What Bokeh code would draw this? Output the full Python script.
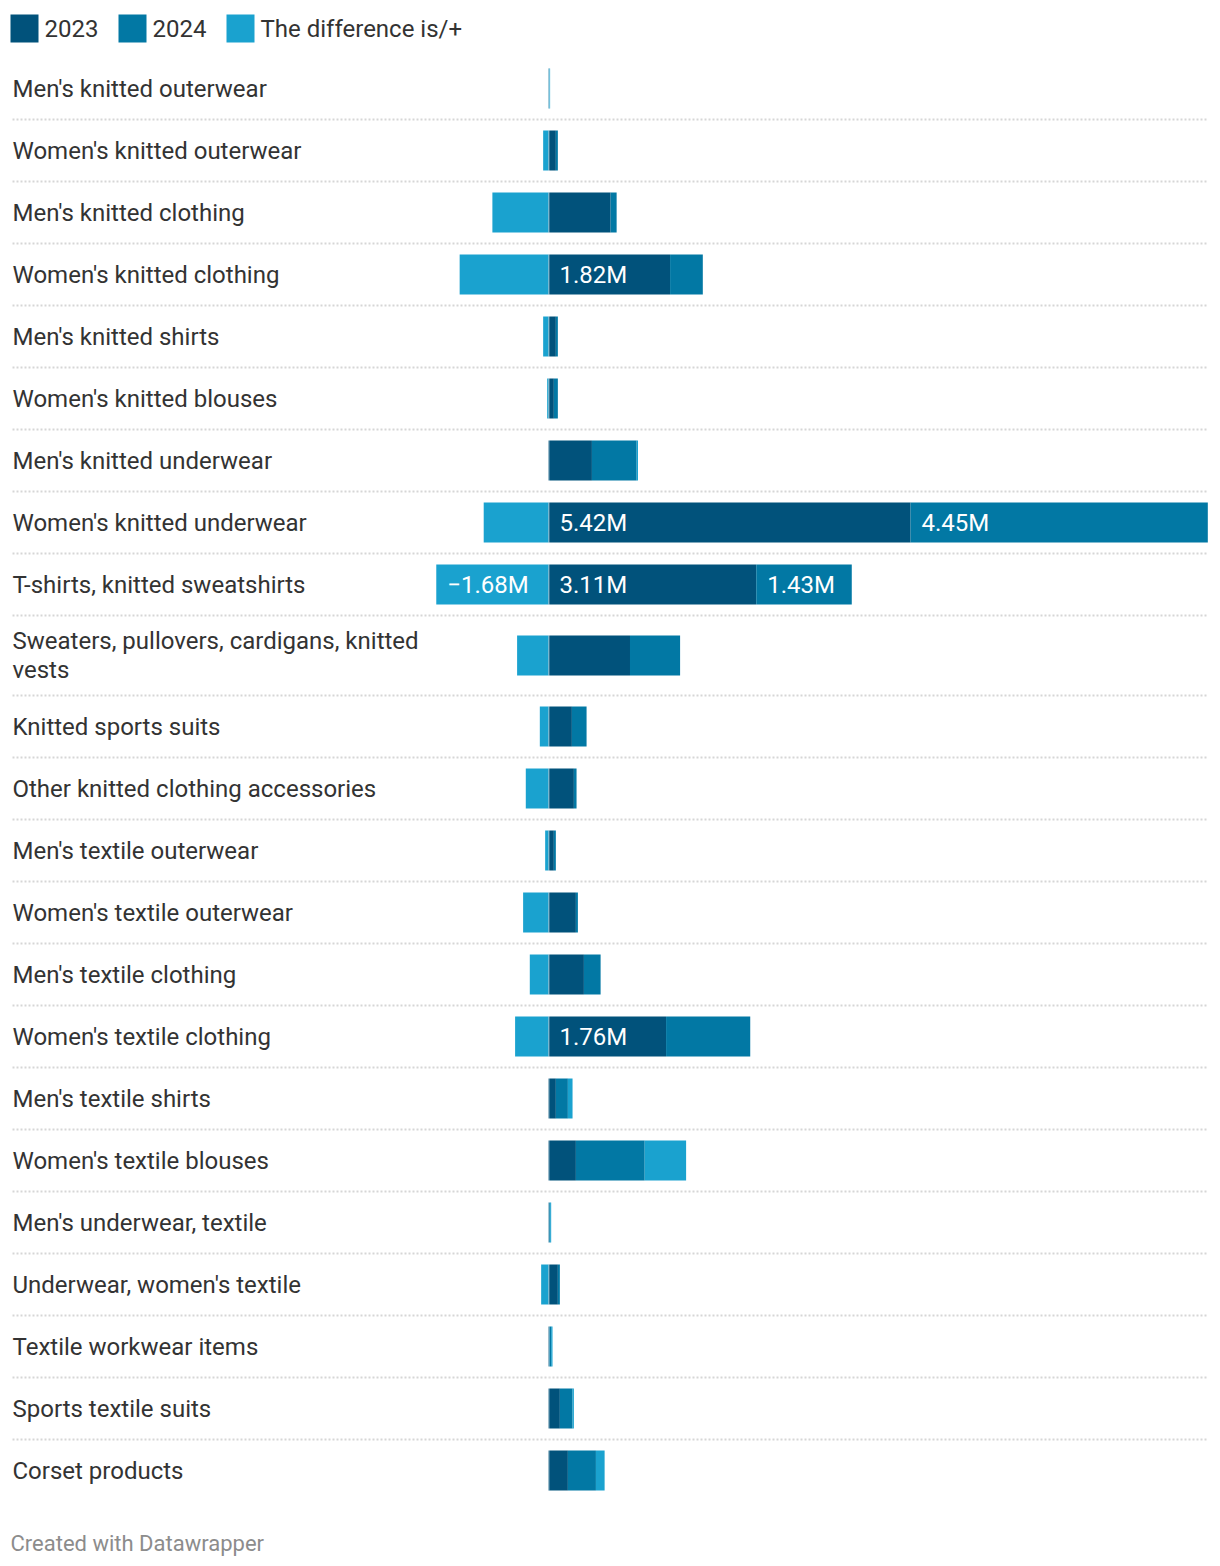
from bokeh.plotting import figure
from bokeh.models import Range1d, ColumnDataSource
from bokeh.core.properties import value
from bokeh.embed import file_html
from bokeh.resources import INLINE

# ---------------- data ----------------
categories = [
    "Men's knitted outerwear",
    "Women's knitted outerwear",
    "Men's knitted clothing",
    "Women's knitted clothing",
    "Men's knitted shirts",
    "Women's knitted blouses",
    "Men's knitted underwear",
    "Women's knitted underwear",
    "T-shirts, knitted sweatshirts",
    "Sweaters, pullovers, cardigans, knitted\nvests",
    "Knitted sports suits",
    "Other knitted clothing accessories",
    "Men's textile outerwear",
    "Women's textile outerwear",
    "Men's textile clothing",
    "Women's textile clothing",
    "Men's textile shirts",
    "Women's textile blouses",
    "Men's underwear, textile",
    "Underwear, women's textile",
    "Textile workwear items",
    "Sports textile suits",
    "Corset products",
]
v2023 = [0.002, 0.11, 0.93, 1.82, 0.11, 0.08, 0.65, 5.42, 3.11, 1.22, 0.35, 0.38,
         0.08, 0.41, 0.53, 1.76, 0.11, 0.41, 0.005, 0.14, 0.01, 0.17, 0.29]
v2024 = [0.012, 0.03, 0.09, 0.49, 0.03, 0.06, 0.67, 4.45, 1.43, 0.75, 0.22, 0.04,
         0.03, 0.03, 0.25, 1.26, 0.18, 1.03, 0.02, 0.03, 0.03, 0.19, 0.42]
vdiff = [0.01, -0.08, -0.84, -1.33, -0.08, -0.02, 0.02, -0.97, -1.68, -0.47, -0.13, -0.34,
         -0.05, -0.38, -0.28, -0.50, 0.07, 0.62, 0.015, -0.11, 0.02, 0.02, 0.13]
series_names = ["2023", "2024", "The difference is/+"]
colors = ["#01527b", "#0278a4", "#1aa2cf"]

# ---------------- layout ----------------
W, H = 1212, 1560
X0 = 548.0          # pixel position of zero
S = 66.8            # pixels per million
FONT = "Roboto"
def px(xpix):
    return (xpix - X0) / S

p = figure(width=W, height=H, output_backend="svg", toolbar_location=None,
           x_range=Range1d(px(0), px(W)), y_range=Range1d(H, 0),
           min_border=0, outline_line_color=None)
p.axis.visible = False
p.grid.visible = False
p.background_fill_color = "white"
p.border_fill_color = "white"

# row geometry
centers, seps = [], []
top = 57.0
for i, c in enumerate(categories):
    h = 62 + 18 * (c.count("\n"))
    centers.append(top + h / 2)
    top += h
    if i < len(categories) - 1:
        seps.append(top)

# separators (dotted)
p.segment(x0=[px(12)] * len(seps), x1=[px(1208)] * len(seps), y0=seps, y1=seps,
          line_color="#d6d6d6", line_width=2, line_dash="2 2")

# stacked bars
l1, r1, l2, r2, l3, r3 = [], [], [], [], [], []
for a, b, d in zip(v2023, v2024, vdiff):
    l1.append(0); r1.append(a)
    l2.append(a); r2.append(a + b)
    if d >= 0:
        l3.append(a + b); r3.append(a + b + d)
    else:
        l3.append(d); r3.append(0)

src = ColumnDataSource(dict(y=centers, l1=l1, r1=r1, l2=l2, r2=r2, l3=l3, r3=r3))
p.hbar(y="y", left="l1", right="r1", height=40, source=src, fill_color=colors[0], line_color=None)
p.hbar(y="y", left="l2", right="r2", height=40, source=src, fill_color=colors[1], line_color=None)
p.hbar(y="y", left="l3", right="r3", height=40, source=src, fill_color=colors[2], line_color=None)

# zero line
p.segment(x0=[0.5 / S], x1=[0.5 / S], y0=[centers[0] - 20], y1=[centers[-1] + 20],
          line_color="white", line_alpha=0.45, line_width=1)

# value labels inside wide segments
lx, ly, lt = [], [], []
for i in range(len(categories)):
    for val, left in ((v2023[i], l1[i]), (v2024[i], l2[i]), (vdiff[i], l3[i])):
        if abs(val) >= 1.35:
            lx.append(left); ly.append(centers[i])
            lt.append(("\u2212" if val < 0 else "") + f"{abs(val):.2f}M")
p.text(x=lx, y=ly, text=lt, x_offset=11, text_color="white", text_font=value(FONT),
       text_font_size="24px", text_baseline="middle", text_align="left")

# category labels
p.text(x=[px(12)] * len(categories), y=centers, text=categories, text_color="#333333",
       text_font=value(FONT), text_font_size="24px", text_baseline="middle",
       text_align="left", text_line_height=1.07)

# legend
sq_x = [10, 118, 226]
p.quad(left=[px(x) for x in sq_x], right=[px(x + 28) for x in sq_x],
       top=[14] * 3, bottom=[42] * 3, fill_color=colors, line_color=None)
p.text(x=[px(x + 34) for x in sq_x], y=[28] * 3, text=series_names, text_color="#333333",
       text_font=value(FONT), text_font_size="24px", text_baseline="middle", text_align="left")

# credit
p.text(x=[px(10)], y=[1543], text=["Created with Datawrapper"], text_color="#8c8c8c",
       text_font=value(FONT), text_font_size="22px", text_baseline="middle", text_align="left")

open("out.html", "w").write(file_html(p, INLINE))
